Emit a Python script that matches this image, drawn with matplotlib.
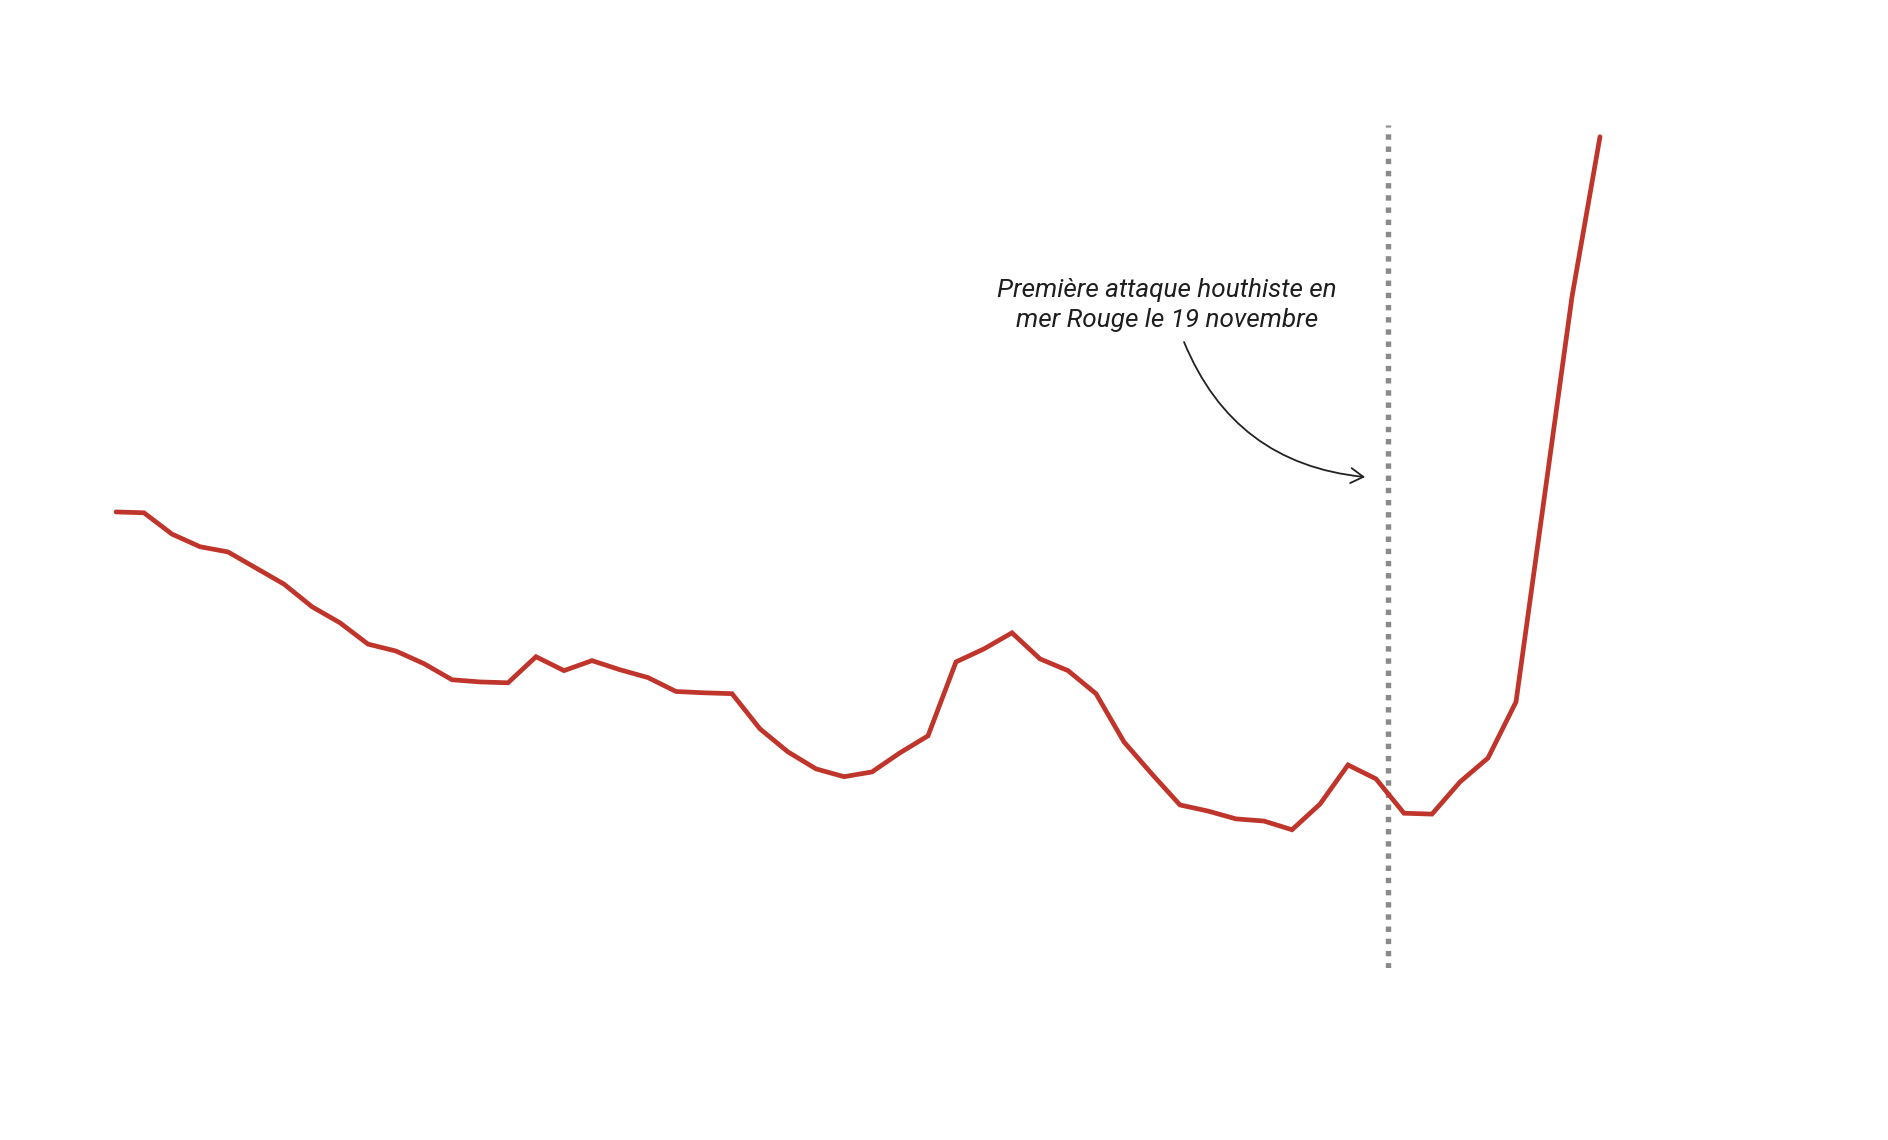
import matplotlib
matplotlib.use("Agg")
import matplotlib.pyplot as plt
import pandas as pd

# Weekly freight index (USD per 40ft container), Thursdays from 5 Jan 2023
dates = pd.date_range("2023-01-05", periods=54, freq="7D")
values = [2120, 2118, 2069, 2040, 2028, 1991, 1954, 1902, 1865, 1816,
          1800, 1771, 1734, 1729, 1727, 1787, 1755, 1778, 1757, 1739,
          1707, 1704, 1702, 1621, 1568, 1529, 1511, 1522, 1566, 1605,
          1775, 1805, 1842, 1782, 1755, 1702, 1591, 1517, 1446, 1432,
          1414, 1409, 1389, 1448, 1538, 1506, 1427, 1425, 1499, 1554,
          1683, 2148, 2615, 2983]
event_date = pd.Timestamp("2023-11-19")
event_label = "Première attaque houthiste en\nmer Rouge le 19 novembre"

W, H = 1888, 1140
fig = plt.figure(figsize=(W / 100, H / 100), dpi=100)
fig.patch.set_facecolor("white")
ax = fig.add_axes([116 / W, 1 - 968 / H, (1600 - 116) / W, (968 - 125) / H])

ax.plot(dates, values, color="#c0352b", linewidth=3.4,
        solid_capstyle="round", solid_joinstyle="miter", zorder=3,
        clip_on=False)
ax.axvline(event_date, color="#8a8a8a", linewidth=3.9,
           linestyle=(0, (1, 1.25)), dash_capstyle="butt", zorder=2)

ax.set_xlim(dates[0], dates[-1])
ax.set_ylim(1071, 3010)
ax.axis("off")

ax.text(0.7082, 0.7862, event_label, transform=ax.transAxes,
        ha="center", va="center", fontsize=18.8, fontstyle="italic",
        family=["Roboto", "DejaVu Sans"], color="#1e1e1e", linespacing=1.32)

ax.annotate("", xy=(0.8417, 0.5824), xycoords="axes fraction",
            xytext=(0.7197, 0.7426), textcoords="axes fraction",
            arrowprops=dict(arrowstyle="->,head_length=0.5,head_width=0.3",
                            connectionstyle="arc3,rad=0.3",
                            color="#222222", linewidth=1.3,
                            shrinkA=0, shrinkB=0, mutation_scale=18))

fig.savefig("out.png", dpi=100, facecolor="white")
